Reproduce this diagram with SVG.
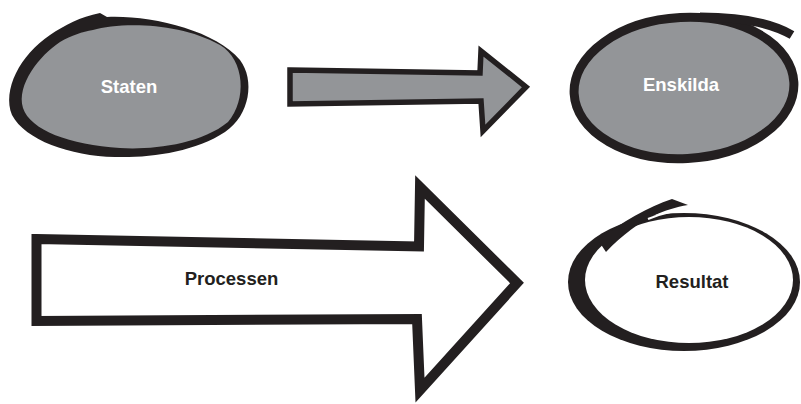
<svg xmlns="http://www.w3.org/2000/svg" width="801" height="404" viewBox="0 0 801 404">
<style>
.lbl{font-family:"Liberation Sans",Arial,Helvetica,sans-serif;font-weight:bold;font-size:18.5px;text-anchor:middle}
.w{fill:#ffffff}
.d{fill:#231f20}
.ink{fill:#231f20}
.gray{fill:#939598}
</style>
<rect width="801" height="404" fill="#ffffff"/>
<g id="staten">
<path class="ink" d="M100,13 L107,17 C150,15 215,30 240,60 C255,80 250,115 225,132 C195,152 150,158 115,157 C70,156 25,140 12,115 C2,90 20,55 50,35 C65,25 80,17 100,13 Z"/>
<path class="gray" d="M93,30 C120,22 180,22 220,45 C245,60 247,100 228,122 C200,145 150,150 120,148 C70,145 30,130 23,108 C16,85 40,55 60,42 C72,35 82,32 93,30 Z"/>
<text class="lbl w" x="129" y="93">Staten</text>
</g>
<g id="connectors">
<path class="gray" d="M290,70 L480,73 L481,51 L526,87 L483,131 L481,101 L290,104 Z" stroke="#231f20" stroke-width="5.5" stroke-linejoin="miter"/>
</g>
<g id="enskilda">
<ellipse cx="684" cy="88" rx="110" ry="70.5" transform="rotate(-3 684 88)" fill="#939598" stroke="#231f20" stroke-width="9"/>
<path d="M700,17 C740,17 770,22 792,35" fill="none" stroke="#231f20" stroke-width="9"/>
<text class="lbl w" x="681" y="91">Enskilda</text>
</g>
<g id="processen">
<path d="M36.5,239 L419,246.5 L420,187 L517,283 L420,390 L417,319 L36.5,321 Z" fill="#ffffff" stroke="#231f20" stroke-width="10" stroke-linejoin="miter" stroke-miterlimit="6"/>
<text class="lbl d" x="231.5" y="285">Processen</text>
</g>
<g id="resultat">
<ellipse class="ink" cx="684" cy="282" rx="116" ry="69"/>
<ellipse cx="689" cy="280" rx="104" ry="63" fill="#ffffff"/>
<path class="ink" d="M598,240 C622,222 648,207 672,199 L688,205 C676,207 664,211 655,215 C640,222 622,235 606,252 Z"/>
<path d="M648,219 C662,213 676,210 692,209" fill="none" stroke="#ffffff" stroke-width="2"/>
<text class="lbl d" x="692" y="288">Resultat</text>
</g>
</svg>
